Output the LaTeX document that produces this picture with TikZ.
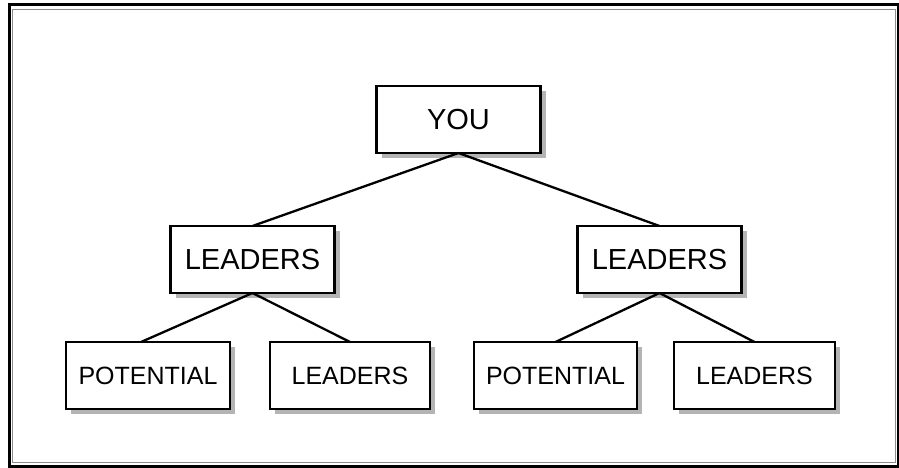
\documentclass[tikz,border=0pt]{standalone}
\usepackage{fontspec}
\setmainfont{Liberation Sans}
\usetikzlibrary{shadows}
\definecolor{FrameGray}{HTML}{8C8C8C}
\definecolor{ShadowGray}{HTML}{B4B4B4}

\begin{document}
\begin{tikzpicture}[x=1pt, y=-1pt,
    box/.style={draw, line width=2.5pt, fill=white, minimum width=164pt, minimum height=67pt,
        inner sep=0pt, outer sep=0pt,
        drop shadow={shadow xshift=5pt, shadow yshift=-5pt, fill=ShadowGray, opacity=1}},
    big/.style={font=\fontsize{29}{34}\selectfont},
    small/.style={font=\fontsize{25}{30}\selectfont},
    link/.style={line width=2.3pt}]
    \useasboundingbox (0,0) rectangle (899,468);
    % Frame
    \draw[line width=3pt] (9,5) rectangle (898,466);
    \draw[FrameGray, line width=1.8pt] (12.5,9.5) rectangle (895.5,462.5);

    % Top
    \node[box, big] (you) at (458.5,119.5) {YOU};

    % Middle
    \node[box, big] (lead1) at (252.5,259.5) {LEADERS};
    \node[box, big] (lead2) at (659.5,259.5) {LEADERS};

    % Bottom
    \node[box, small] (pot1) at (148,375.5) {POTENTIAL};
    \node[box, small, minimum width=160pt] (lead3) at (350,375.5) {LEADERS};
    \node[box, small, minimum width=163pt] (pot2) at (555.5,375.5) {POTENTIAL};
    \node[box, small, minimum width=161pt] (lead4) at (754.5,375.5) {LEADERS};

    % Links
    \draw[link] (you.south) -- (lead1.north);
    \draw[link] (you.south) -- (lead2.north);
    \draw[link] (lead1.south) -- ([xshift=-7pt]pot1.north);
    \draw[link] (lead1.south) -- (lead3.north);
    \draw[link] (lead2.south) -- (pot2.north);
    \draw[link] (lead2.south) -- (lead4.north);
\end{tikzpicture}
\end{document}
